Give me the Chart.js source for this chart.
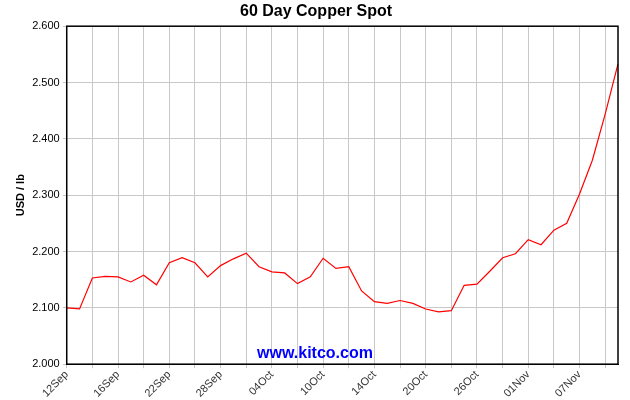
<!DOCTYPE html>
<html><head><script src="https://cdn.jsdelivr.net/npm/chart.js@4"></script>
<style>body{margin:0;background:#fff}#w{width:630px;height:400px}</style></head>
<body><div id="w"><canvas id="c"></canvas></div>
<script>
const labels=["12Sep","","","","16Sep","","","","22Sep","","","","28Sep","","","","04Oct","","","","10Oct","","","","14Oct","","","","20Oct","","","","26Oct","","","","01Nov","","","","07Nov","","",""];
const prices=[2.100,2.098,2.153,2.156,2.155,2.146,2.158,2.141,2.180,2.189,2.180,2.155,2.175,2.187,2.197,2.173,2.164,2.162,2.143,2.155,2.188,2.170,2.173,2.130,2.111,2.108,2.113,2.108,2.098,2.093,2.095,2.140,2.142,2.165,2.189,2.196,2.221,2.212,2.238,2.250,2.302,2.362,2.444,2.533];
const yTicks=[2.0,2.1,2.2,2.3,2.4,2.5,2.6];
const wm={id:'wm',afterDraw(c){const x=c.ctx;x.save();x.font='bold 16px Arial, "Liberation Sans"';x.fillStyle='#0000ff';x.textAlign='center';x.fillText('www.kitco.com',315,358);
const a=c.chartArea;x.strokeStyle='#000';x.lineWidth=1.5;x.strokeRect(a.left,a.top,a.right-a.left,a.bottom-a.top);x.restore();}};
new Chart(document.getElementById('c'),{type:'line',data:{labels,datasets:[{data:prices,borderColor:'#ff0000',borderWidth:1.2,pointRadius:0,tension:0}]},
options:{responsive:true,maintainAspectRatio:false,animation:false,
layout:{padding:{left:14,right:12,top:0,bottom:0}},
plugins:{legend:{display:false},tooltip:{enabled:false},title:{display:true,text:'60 Day Copper Spot',color:'#000',font:{family:'Arial, "Liberation Sans"',size:16,weight:'bold'},padding:{top:2,bottom:5}}},
scales:{x:{offset:false,grid:{color:(ctx)=>ctx.index%2===0?'#c8c8c8':'rgba(0,0,0,0)',drawTicks:true,tickLength:4},border:{color:'#000'},
ticks:{autoSkip:false,maxRotation:45,minRotation:45,color:'#333',font:{family:'Arial, "Liberation Sans"',size:11},padding:0,callback:(v,i)=>labels[i]}},
y:{min:2.0,max:2.6,afterBuildTicks:(ax)=>{ax.ticks=yTicks.map(v=>({value:v}))},grid:{color:'#c8c8c8',tickLength:4},border:{color:'#000'},
ticks:{color:'#000',font:{family:'Arial, "Liberation Sans"',size:11},callback:v=>v.toFixed(3)},
title:{display:true,text:'USD / lb',color:'#000',font:{family:'Arial, "Liberation Sans"',size:11,weight:'bold'},padding:{top:0,bottom:2}}}}},plugins:[wm]});
</script></body></html>
